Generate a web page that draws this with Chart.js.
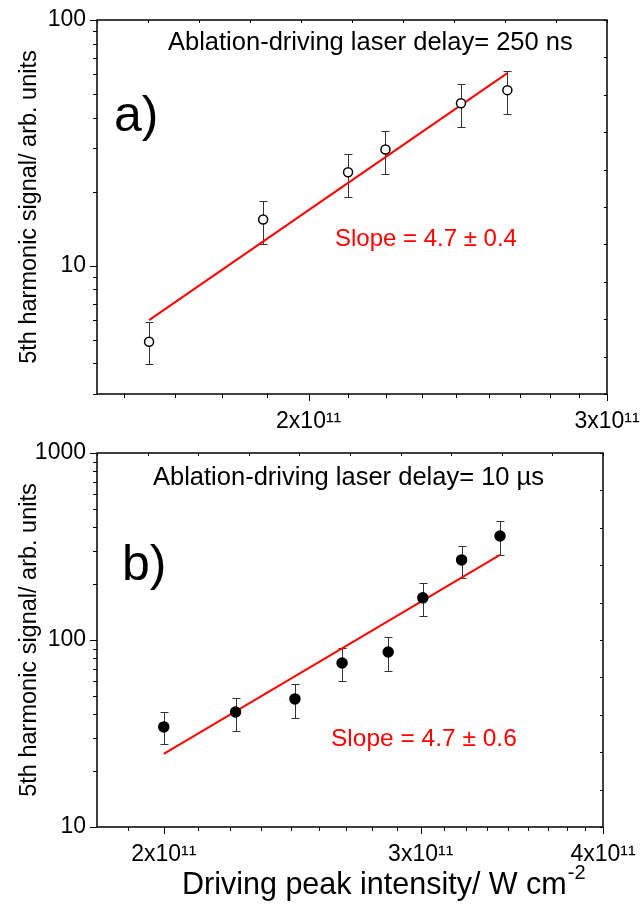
<!DOCTYPE html>
<html>
<head>
<meta charset="utf-8">
<script src="https://cdn.jsdelivr.net/npm/chart.js@4.4.1/dist/chart.umd.min.js"></script>
<style>
  html, body { margin: 0; padding: 0; background: #fff; }
  #wrapA { position: absolute; left: 0; top: 0; width: 641px; height: 440px; }
  #wrapB { position: absolute; left: 0; top: 440px; width: 641px; height: 477px; }
</style>
</head>
<body>
<div id="wrapA"><canvas id="chartA"></canvas></div>
<div id="wrapB"><canvas id="chartB"></canvas></div>
<script>
const FONT = '"Liberation Sans", Arial, sans-serif';

// panel a) : delay 250 ns
const aX = [1.61e11, 1.88e11, 2.11e11, 2.22e11, 2.46e11, 2.62e11];
const aY = [4.9, 15.4, 24.0, 29.7, 45.8, 51.8];
const aLo = [3.98, 12.3, 19.1, 23.7, 36.6, 41.3];
const aHi = [5.9, 18.4, 28.6, 35.2, 54.8, 61.9];
const aFitX = [1.61e11, 2.62e11];
const aFitY = [6.0, 60.8];

// panel b) : delay 10 us
const bX = [2.0e11, 2.24e11, 2.46e11, 2.65e11, 2.85e11, 3.01e11, 3.2e11, 3.4e11];
const bY = [34.3, 41.2, 48.4, 75.3, 86.3, 168, 268, 360];
const bLo = [27.8, 32.6, 38.3, 60.4, 68.3, 134, 215, 285];
const bHi = [41.2, 49.0, 58.2, 90.6, 104, 202, 318, 433];
const bFitX = [2.0e11, 3.4e11];
const bFitY = [24.6, 285];

// ticks
const aXMajor = [2e11, 3e11];
const aXLabels = ['2x10\u00B9\u00B9', '3x10\u00B9\u00B9'];
const aXMinor = [1.556e11, 1.667e11, 1.778e11, 1.889e11, 2.111e11, 2.222e11, 2.333e11, 2.444e11,
                 2.556e11, 2.667e11, 2.778e11, 2.889e11];
const aYMajor = [10, 100];
const aYLabels = ['10', '100'];
const aYMinor = [3, 4, 5, 6, 7, 8, 9, 20, 30, 40, 50, 60, 70, 80, 90];

const bXMajor = [2e11, 3e11, 4e11];
const bXLabels = ['2x10\u00B9\u00B9', '3x10\u00B9\u00B9', '4x10\u00B9\u00B9'];
const bXMinor = [1.889e11, 2.111e11, 2.222e11, 2.333e11, 2.444e11, 2.556e11, 2.667e11, 2.778e11, 2.889e11,
                 3.111e11, 3.222e11, 3.333e11, 3.444e11, 3.556e11, 3.667e11, 3.778e11, 3.889e11];
const bYMajor = [10, 100, 1000];
const bYLabels = ['10', '100', '1000'];
const bYMinor = [20, 30, 40, 50, 60, 70, 80, 90, 200, 300, 400, 500, 600, 700, 800, 900];

const frameDiv = [0, 1, 2, 3, 4, 5, 6, 7, 8, 9, 10];

// tick marks + box frame
const frameTicks = {
  id: 'frameTicks',
  afterDraw(chart, args, opts) {
    const {ctx, chartArea: {left, right, top, bottom}} = chart;
    const {x, y, x2, y2} = chart.scales;
    ctx.save();
    ctx.strokeStyle = '#000';
    ctx.lineWidth = 1;
    ctx.beginPath();
    const vx = (px, y0, len) => { px = Math.round(px) + 0.5; ctx.moveTo(px, y0); ctx.lineTo(px, y0 + len); };
    const hy = (py, x0, len) => { py = Math.round(py) + 0.5; ctx.moveTo(x0, py); ctx.lineTo(x0 + len, py); };
    opts.xMajor.forEach(v => vx(x.getPixelForValue(v), bottom, 7));
    opts.xMinor.forEach(v => vx(x.getPixelForValue(v), bottom, 4));
    opts.yMajor.forEach(v => hy(y.getPixelForValue(v), left, -7));
    opts.yMinor.forEach(v => hy(y.getPixelForValue(v), left, -4));
    frameDiv.forEach(v => vx(x2.getPixelForValue(v), top, 3));
    frameDiv.forEach(v => hy(y2.getPixelForValue(v), right, -3));
    ctx.stroke();
    ctx.lineWidth = 1.5;
    ctx.strokeRect(left, top, right - left, bottom - top);
    ctx.restore();
  }
};

const errorBars = {
  id: 'errorBars',
  beforeDatasetsDraw(chart, args, opts) {
    const {ctx} = chart;
    const {x, y} = chart.scales;
    ctx.save();
    ctx.strokeStyle = '#333';
    ctx.lineWidth = 1;
    ctx.beginPath();
    opts.xs.forEach((v, i) => {
      const px = Math.round(x.getPixelForValue(v)) + 0.5;
      const lo = Math.round(y.getPixelForValue(opts.lo[i])) + 0.5;
      const hi = Math.round(y.getPixelForValue(opts.hi[i])) + 0.5;
      ctx.moveTo(px, lo); ctx.lineTo(px, hi);
      ctx.moveTo(px - 4, lo); ctx.lineTo(px + 4, lo);
      ctx.moveTo(px - 4, hi); ctx.lineTo(px + 4, hi);
    });
    ctx.stroke();
    ctx.restore();
  }
};

const texts = {
  id: 'texts',
  afterDraw(chart, args, opts) {
    const {ctx} = chart;
    ctx.save();
    ctx.textAlign = 'left';
    ctx.textBaseline = 'alphabetic';
    opts.items.forEach(it => {
      ctx.font = it.size + 'px ' + FONT;
      ctx.fillStyle = it.color || '#000';
      ctx.fillText(it.text, it.x, it.y);
      if (it.sup) {
        const w = ctx.measureText(it.text).width;
        ctx.font = it.sup.size + 'px ' + FONT;
        ctx.fillText(it.sup.text, it.x + w + 1, it.y - it.sup.rise);
      }
    });
    ctx.restore();
  }
};

function makeChart(id, cfg) {
  return new Chart(document.getElementById(id), {
    type: 'scatter',
    data: {
      datasets: [
        {
          data: cfg.xs.map((v, i) => ({x: v, y: cfg.ys[i]})),
          pointRadius: cfg.radius,
          pointBorderWidth: 1.5,
          pointBorderColor: '#000',
          pointBackgroundColor: cfg.fill
        },
        {
          data: cfg.fitX.map((v, i) => ({x: v, y: cfg.fitY[i]})),
          showLine: true,
          borderColor: '#ff0000',
          borderWidth: 2,
          pointRadius: 0
        }
      ]
    },
    options: {
      responsive: true,
      maintainAspectRatio: false,
      animation: false,
      devicePixelRatio: 1,
      layout: { padding: cfg.padding },
      plugins: {
        legend: { display: false },
        tooltip: { enabled: false },
        frameTicks: { xMajor: cfg.xMajor, xMinor: cfg.xMinor, yMajor: cfg.yMajor, yMinor: cfg.yMinor },
        errorBars: { xs: cfg.xs, lo: cfg.lo, hi: cfg.hi },
        texts: { items: cfg.texts }
      },
      scales: {
        x: {
          type: 'logarithmic',
          min: cfg.xRange[0], max: cfg.xRange[1],
          afterBuildTicks: s => { s.ticks = cfg.xMajor.map(v => ({value: v})); },
          afterFit: s => { s.height = cfg.xHeight; s.paddingLeft = 0; s.paddingRight = 0; },
          ticks: {
            callback: (v, i) => cfg.xLabels[i],
            autoSkip: false, maxRotation: 0, padding: 14,
            color: '#000', font: { size: 23, family: FONT }
          },
          grid: { display: false, drawTicks: false },
          border: { display: false }
        },
        y: {
          type: 'logarithmic',
          min: cfg.yRange[0], max: cfg.yRange[1],
          afterBuildTicks: s => { s.ticks = cfg.yMajor.map(v => ({value: v})); },
          afterFit: s => { s.width = 97; s.paddingTop = 0; s.paddingBottom = 0; },
          ticks: {
            callback: (v, i) => cfg.yLabels[i],
            autoSkip: false, padding: 11,
            color: '#000', font: { size: 23, family: FONT }
          },
          title: {
            display: true,
            text: '5th harmonic signal/ arb. units',
            color: '#000',
            font: { size: 23.5, family: FONT },
            padding: { top: 15, bottom: 0 }
          },
          grid: { display: false, drawTicks: false },
          border: { display: false }
        },
        x2: { type: 'linear', position: 'top', display: false, min: 0, max: 10 },
        y2: { type: 'linear', position: 'right', display: false, min: 0, max: 10 }
      }
    },
    plugins: [errorBars, frameTicks, texts]
  });
}

makeChart('chartA', {
  xs: aX, ys: aY, lo: aLo, hi: aHi, fitX: aFitX, fitY: aFitY,
  radius: 4.5, fill: '#fff',
  xRange: [1.5e11, 3e11], yRange: [3, 100],
  xMajor: aXMajor, xMinor: aXMinor, xLabels: aXLabels,
  yMajor: aYMajor, yMinor: aYMinor, yLabels: aYLabels,
  padding: { top: 20, right: 34, left: 0, bottom: 0 },
  xHeight: 46,
  texts: [
    { text: 'Ablation-driving laser delay= 250 ns', x: 168, y: 50, size: 25.5 },
    { text: 'a)', x: 114, y: 131, size: 50 },
    { text: 'Slope = 4.7 \u00B1 0.4', x: 335, y: 246, size: 24, color: '#ff0000' }
  ]
});

makeChart('chartB', {
  xs: bX, ys: bY, lo: bLo, hi: bHi, fitX: bFitX, fitY: bFitY,
  radius: 5, fill: '#000',
  xRange: [1.8e11, 4e11], yRange: [10, 1000],
  xMajor: bXMajor, xMinor: bXMinor, xLabels: bXLabels,
  yMajor: bYMajor, yMinor: bYMinor, yLabels: bYLabels,
  padding: { top: 13, right: 38, left: 0, bottom: 0 },
  xHeight: 90,
  texts: [
    { text: 'Ablation-driving laser delay= 10 \u00B5s', x: 153, y: 45, size: 25.5 },
    { text: 'b)', x: 122, y: 140, size: 50 },
    { text: 'Slope = 4.7 \u00B1 0.6', x: 331, y: 306, size: 24.5, color: '#ff0000' },
    { text: 'Driving peak intensity/ W cm', x: 182, y: 454, size: 30.5,
      sup: { text: '-2', size: 20, rise: 15 } }
  ]
});
</script>
</body>
</html>
